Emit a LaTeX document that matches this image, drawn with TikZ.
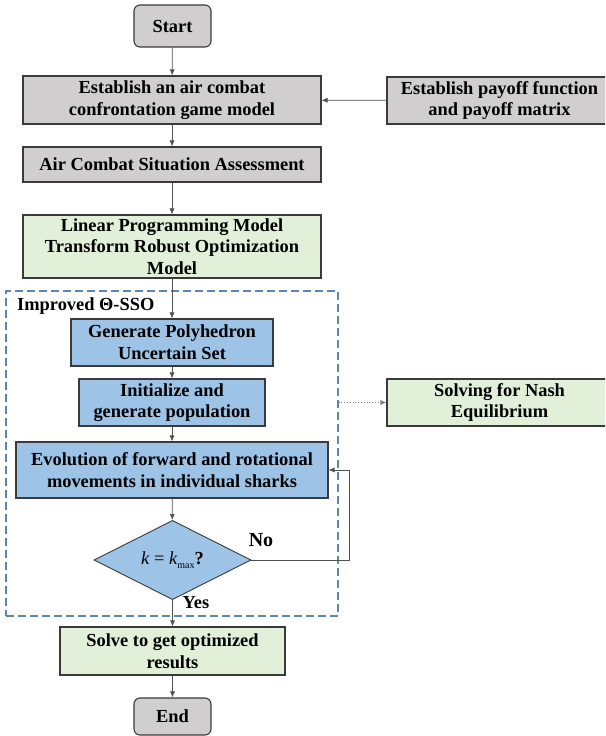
\documentclass[tikz,border=0pt]{standalone}
\usepackage{fontspec}
\setmainfont{Liberation Serif}[BoldFont={Liberation Serif Bold},ItalicFont={Liberation Serif Italic},BoldItalicFont={Liberation Serif Bold Italic}]
\usetikzlibrary{shapes.geometric,arrows.meta}
\definecolor{grayfill}{HTML}{D0CECE}
\definecolor{greenfill}{HTML}{E2F0D9}
\definecolor{bluefill}{HTML}{9DC3E6}
\definecolor{dashblue}{HTML}{5B87AD}
\definecolor{edgecol}{HTML}{3A3A3A}
\definecolor{linecol}{HTML}{505050}
\begin{document}
\begin{tikzpicture}[x=1pt,y=-1pt,
  every node/.style={font=\fontsize{18.4}{21.6}\selectfont\bfseries, align=center, inner xsep=2pt, inner ysep=0pt},
  boxbase/.style={draw=edgecol, line width=1.1pt, rectangle},
  graybox/.style={boxbase, fill=grayfill},
  greenbox/.style={boxbase, fill=greenfill},
  bluebox/.style={boxbase, fill=bluefill},
  termbox/.style={boxbase, fill=grayfill, rounded corners=6pt},
  decision/.style={diamond, draw=edgecol, line width=0.9pt, fill=bluefill, inner sep=0pt},
  arrow/.style={draw=linecol, line width=0.7pt, -{Latex[length=6pt,width=5pt]}},
  dotarrow/.style={draw=gray, line width=0.8pt, dotted, -{Latex[length=6pt,width=5pt]}},
  groupbox/.style={draw=dashblue, line width=1.2pt, dash pattern=on 8pt off 4pt, rectangle, inner sep=0pt},
  plain/.style={inner sep=0pt}
]
\clip (0,0) rectangle (605,736);
\fill[white] (0,0) rectangle (605,736);

\node[groupbox, minimum width=332, minimum height=325] (imp) at (172,453.5) {};

\node[termbox, minimum width=77, minimum height=42] (start) at (172.5,26) {Start};
\node[graybox, minimum width=298, minimum height=48] (est) at (172,100) {Establish an air combat\\confrontation game model};
\node[graybox, minimum width=225, minimum height=47] (pay) at (499.5,100.5) {Establish payoff function\\and payoff matrix};
\node[graybox, minimum width=298, minimum height=35] (acsa) at (172,164.5) {Air Combat Situation Assessment};
\node[greenbox, minimum width=298, minimum height=63] (lp) at (172,246.5) {Linear Programming Model\\Transform Robust Optimization\\Model};

\node[plain, anchor=west] (implabel) at (17,306) {Improved Θ-SSO};

\node[bluebox, minimum width=202, minimum height=47] (gp) at (172,342.5) {Generate Polyhedron\\Uncertain Set};
\node[bluebox, minimum width=186, minimum height=47] (init) at (172,402.5) {Initialize and\\generate population};
\node[greenbox, minimum width=225, minimum height=47] (nash) at (499.5,402.5) {Solving for Nash\\Equilibrium};
\node[bluebox, minimum width=312, minimum height=56] (evo) at (172,470) {Evolution of forward and rotational\\movements in individual sharks};
\node[decision, minimum width=157, minimum height=68] (dia) at (172.5,560) {\normalfont\itshape k\/ \upshape= \itshape k\upshape\raisebox{-0.45ex}{\fontsize{10}{10}\selectfont max}\bfseries ?};

\node[plain] (no) at (261,540) {\fontsize{20}{24}\selectfont No};
\node[plain] (yes) at (196,603) {Yes};

\node[greenbox, minimum width=225, minimum height=48] (solve) at (172.5,651) {Solve to get optimized\\results};
\node[termbox, minimum width=77, minimum height=37] (end) at (172.5,716.5) {End};

\coordinate (loopc) at (349,560);

\draw[arrow] (start) -- (est);
\draw[arrow] (pay) -- (est);
\draw[arrow] (est) -- (acsa);
\draw[arrow] (acsa) -- (lp);
\draw[arrow] (lp) -- (gp);
\draw[arrow] (gp) -- (init);
\draw[arrow] (init) -- (evo);
\draw[arrow] (evo) -- (dia);
\draw[arrow] (dia.east) -- (loopc) |- (evo.east);
\draw[arrow] (dia) -- (solve);
\draw[arrow] (solve) -- (end);
\draw[dotarrow] (imp.east |- nash.west) -- (nash.west);
\end{tikzpicture}
\end{document}
